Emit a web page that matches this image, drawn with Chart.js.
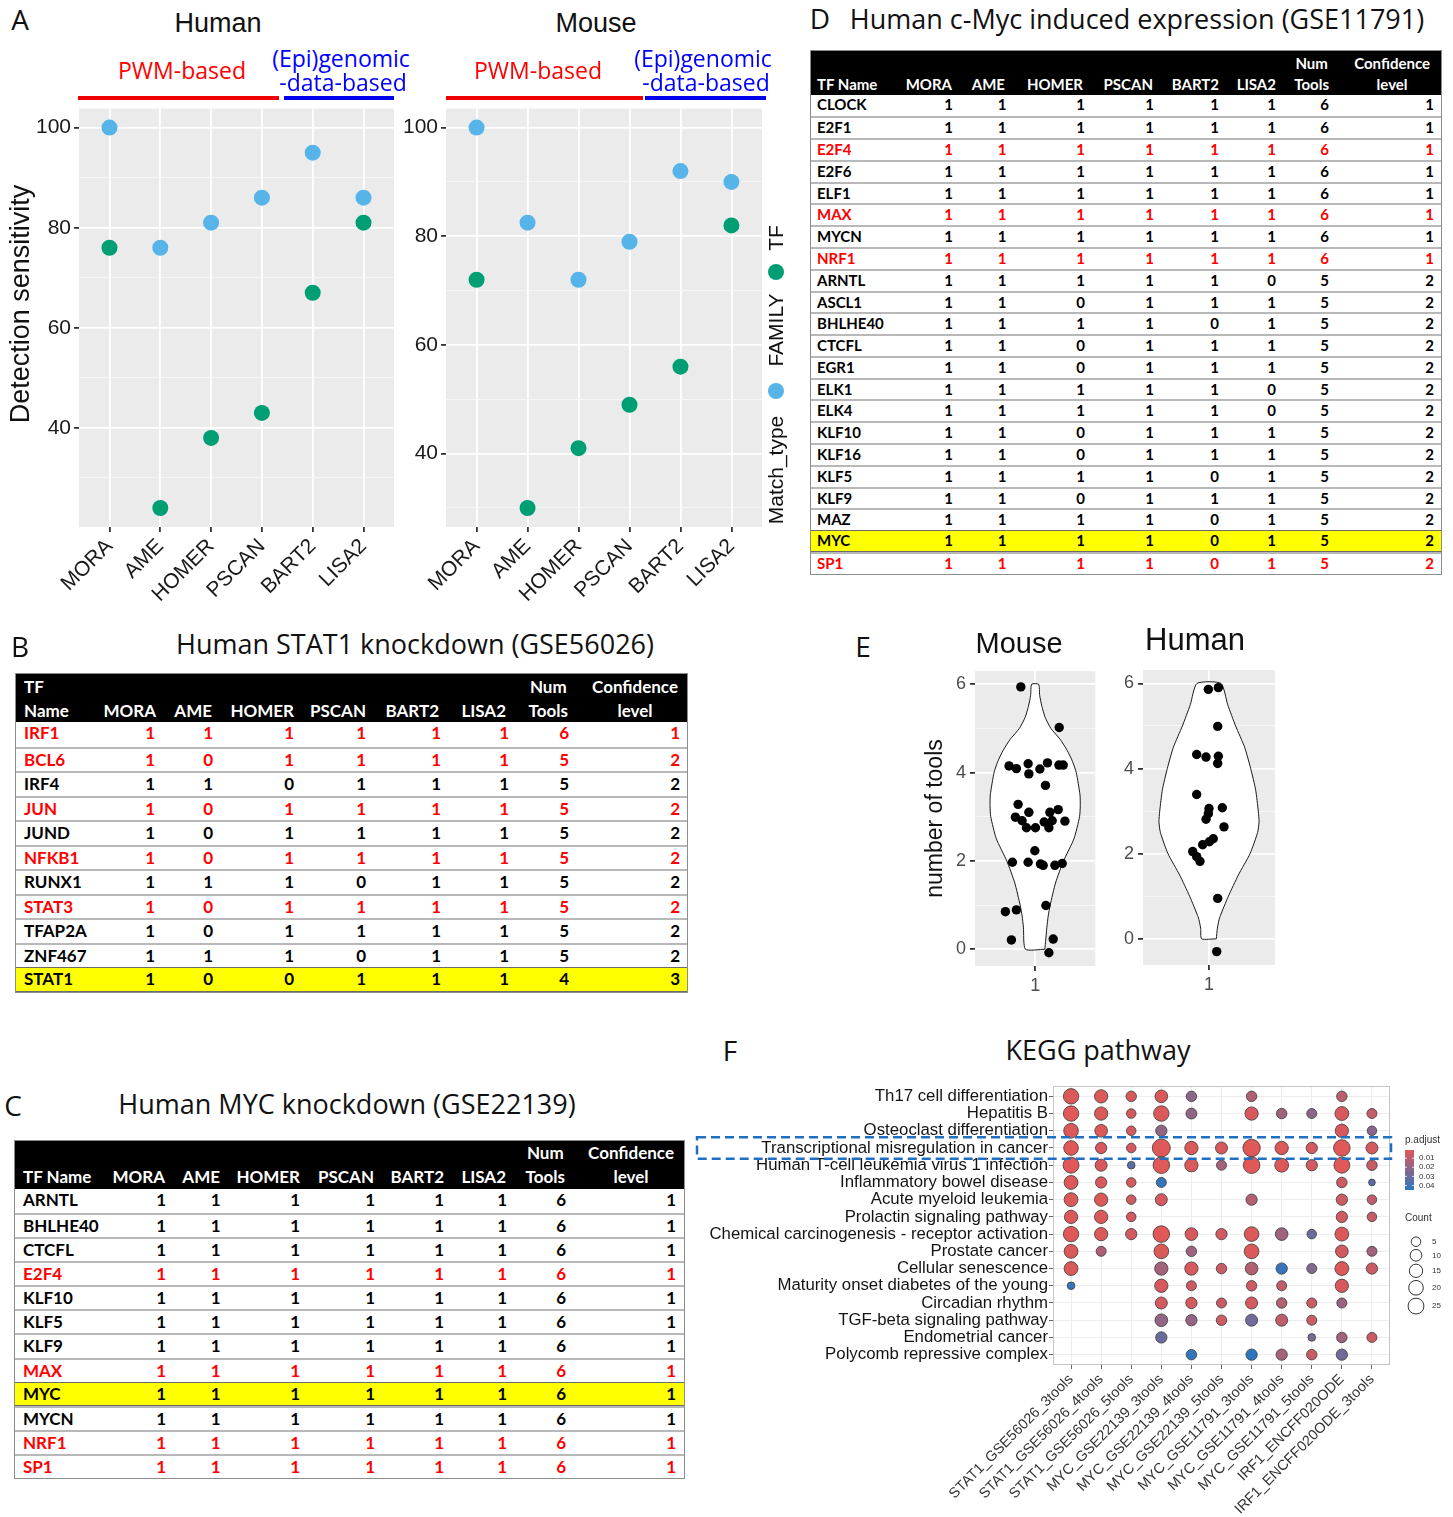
<!DOCTYPE html>
<html lang="en">
<head>
<meta charset="utf-8">
<title>TF enrichment tool comparison</title>
<script src="https://cdn.jsdelivr.net/npm/chart.js@4.4.1/dist/chart.umd.min.js"></script>
<style>
  html, body { margin: 0; padding: 0; background: #fff; }
  body { width: 1453px; height: 1517px; position: relative; overflow: hidden; }
  canvas { position: absolute; }
  .t { position: absolute; white-space: nowrap; line-height: 1; color: #111; }
  .bar { position: absolute; }
  .dot { position: absolute; border-radius: 50%; }
  .tbl { position: absolute; box-sizing: border-box; border: 1px solid #8c8c8c; background: #fff;
         font-family: Lato, 'Open Sans', sans-serif; font-weight: 700; overflow: hidden; }
  .th { position: absolute; left: 0; top: 0; right: 0; background: #000; }
  .hc { position: absolute; color: #fff; text-align: center; white-space: nowrap; }
  .tr { position: absolute; left: 0; right: 0; box-sizing: border-box; }
  .c { position: absolute; top: 0; white-space: nowrap; }
</style>
</head>
<body>
<canvas id="senseHuman" width="405" height="517" style="left:0;top:93px;width:405px;height:517px"></canvas>
<canvas id="senseMouse" width="375" height="517" style="left:395px;top:93px;width:375px;height:517px"></canvas>
<canvas id="toolsMouse" width="185" height="344" style="left:915px;top:656px;width:185px;height:344px"></canvas>
<canvas id="toolsHuman" width="185" height="345" style="left:1100px;top:655px;width:185px;height:345px"></canvas>
<canvas id="kegg" width="763" height="445" style="left:690px;top:1072px;width:763px;height:445px"></canvas>
<script>
// ---------------- fonts ----------------
const SANS = "'Liberation Sans', Arial, Helvetica, sans-serif";
const HUMANIST = "'Open Sans', 'Noto Sans', sans-serif";

// ---------------- Panel A: detection sensitivity ----------------
const detectTools = ['MORA', 'AME', 'HOMER', 'PSCAN', 'BART2', 'LISA2'];
const humanFamily = [100, 76, 81, 86, 95, 86];
const humanTF     = [76, 24, 38, 43, 67, 81];
const mouseFamily = [100, 82.5, 72, 79, 92, 90];
const mouseTF     = [72, 30, 41, 49, 56, 82];
const sensGrid    = [30, 40, 50, 60, 70, 80, 90, 100];
const sensLabels  = [40, 60, 80, 100];
const matchTypes  = ['FAMILY', 'TF'];

// ---------------- Panel E: number of tools per TF ----------------
const mouseJitterX = [0.857, 1.24, 0.74, 0.813, 0.93, 0.937, 1.047, 1.123, 1.237, 1.28, 1.103, 0.83, 0.937,
                      0.803, 0.87, 0.913, 1.003, 1.09, 1.147, 1.23, 1.17, 1.137, 1.297, 0.997, 0.773, 0.93,
                      1.053, 1.08, 1.197, 1.27, 0.703, 0.813, 1.107, 0.763, 1.18, 1.137];
const mouseNumTools = [5.94, 5.02, 4.15, 4.09, 4.2, 3.97, 4.08, 4.22, 4.17, 4.17, 3.71, 3.28, 3.10,
                       2.99, 2.91, 2.75, 2.75, 2.88, 3.10, 3.16, 2.91, 2.75, 2.90, 2.23, 1.97, 1.97,
                       1.93, 1.90, 1.90, 1.94, 0.85, 0.89, 0.99, 0.21, 0.23, -0.08];
const humanJitterX = [0.994, 1.085, 1.079, 0.888, 0.973, 1.085, 1.079, 0.888, 1.0, 1.121, 0.994, 0.973,
                      1.136, 0.942, 1.003, 1.039, 0.852, 0.888, 0.918, 1.079, 1.07];
const humanNumTools = [5.86, 5.90, 4.99, 4.33, 4.27, 4.29, 4.12, 3.39, 3.06, 3.08, 2.94, 2.81,
                       2.63, 2.21, 2.28, 2.35, 2.05, 1.93, 1.82, 0.95, -0.30];
// violin outlines: density half-width at each level of the tool count
const mouseViolinLevels = [0, 0.5, 0.75, 1, 1.5, 2, 2.5, 3, 3.25, 3.5, 4, 4.25, 4.5, 4.75, 5, 5.25, 5.5, 5.75, 6];
const mouseViolinHalf   = [0.097, 0.117, 0.13, 0.15, 0.203, 0.283, 0.387, 0.443, 0.45, 0.447, 0.41, 0.373,
                           0.32, 0.25, 0.157, 0.10, 0.067, 0.045, 0.035];
const humanViolinLevels = [0, 0.25, 0.5, 1, 1.5, 2, 2.5, 2.75, 3, 3.5, 4, 4.5, 5, 5.5, 6];
const humanViolinHalf   = [0.067, 0.076, 0.097, 0.176, 0.267, 0.373, 0.442, 0.455, 0.448, 0.424, 0.379,
                           0.324, 0.242, 0.17, 0.109];
const toolsGrid   = [0, 1, 2, 3, 4, 5, 6];
const toolsLabels = [0, 2, 4, 6];

// ---------------- Panel F: KEGG enrichment ----------------
const keggPathways = [
  'Th17 cell differentiation', 'Hepatitis B', 'Osteoclast differentiation',
  'Transcriptional misregulation in cancer', 'Human T-cell leukemia virus 1 infection',
  'Inflammatory bowel disease', 'Acute myeloid leukemia', 'Prolactin signaling pathway',
  'Chemical carcinogenesis - receptor activation', 'Prostate cancer', 'Cellular senescence',
  'Maturity onset diabetes of the young', 'Circadian rhythm', 'TGF-beta signaling pathway',
  'Endometrial cancer', 'Polycomb repressive complex'];
const keggSamples = [
  'STAT1_GSE56026_3tools', 'STAT1_GSE56026_4tools', 'STAT1_GSE56026_5tools',
  'MYC_GSE22139_3tools', 'MYC_GSE22139_4tools', 'MYC_GSE22139_5tools',
  'MYC_GSE11791_3tools', 'MYC_GSE11791_4tools', 'MYC_GSE11791_5tools',
  'IRF1_ENCFF020ODE', 'IRF1_ENCFF020ODE_3tools'];
const keggFocusPathway = 'Transcriptional misregulation in cancer';
// gene counts (0 = not enriched)
const keggCount = [
  [23, 15, 7, 13, 7, 0, 7, 0, 0, 7, 0],
  [23, 15, 5, 23, 8, 0, 15, 7, 6, 17, 6],
  [20, 13, 5, 9, 0, 0, 0, 0, 0, 15, 5],
  [20, 9, 5, 35, 15, 11, 32, 15, 9, 28, 11],
  [25, 11, 2, 28, 15, 6, 28, 17, 9, 25, 7],
  [17, 9, 5, 6, 0, 0, 0, 0, 0, 7, 1],
  [17, 15, 5, 11, 0, 0, 9, 0, 0, 9, 5],
  [15, 15, 5, 0, 0, 0, 0, 0, 0, 9, 5],
  [23, 15, 9, 28, 13, 9, 20, 13, 5, 17, 0],
  [17, 6, 0, 20, 7, 0, 20, 0, 0, 13, 6],
  [17, 0, 0, 15, 15, 7, 13, 9, 6, 17, 9],
  [2, 0, 0, 15, 6, 0, 7, 6, 0, 15, 0],
  [0, 0, 0, 11, 9, 6, 11, 7, 6, 6, 0],
  [0, 0, 0, 13, 9, 7, 11, 11, 6, 0, 0],
  [0, 0, 0, 9, 0, 0, 0, 0, 2, 7, 6],
  [0, 0, 0, 0, 7, 0, 9, 9, 7, 9, 0]];
// adjusted p-values
const keggPadj = [
  [0.002, 0.002, 0.003, 0.002, 0.022, 0, 0.013, 0, 0, 0.01, 0],
  [0.001, 0.002, 0.004, 0.002, 0.02, 0, 0.003, 0.017, 0.022, 0.003, 0.008],
  [0.002, 0.002, 0.004, 0.02, 0, 0, 0, 0, 0, 0.003, 0.022],
  [0.001, 0.003, 0.004, 0.001, 0.002, 0.003, 0.001, 0.002, 0.004, 0.001, 0.004],
  [0.001, 0.003, 0.034, 0.001, 0.002, 0.016, 0.001, 0.002, 0.005, 0.001, 0.007],
  [0.002, 0.003, 0.004, 0.043, 0, 0, 0, 0, 0, 0.006, 0.034],
  [0.002, 0.002, 0.005, 0.004, 0, 0, 0.012, 0, 0, 0.006, 0.008],
  [0.002, 0.002, 0.004, 0, 0, 0, 0, 0, 0, 0.005, 0.007],
  [0.001, 0.002, 0.004, 0.001, 0.003, 0.005, 0.002, 0.017, 0.03, 0.002, 0],
  [0.002, 0.013, 0, 0.002, 0.017, 0, 0.002, 0, 0, 0.005, 0.016],
  [0.002, 0, 0, 0.016, 0.003, 0.007, 0.012, 0.042, 0.024, 0.002, 0.007],
  [0.043, 0, 0, 0.003, 0.006, 0, 0.006, 0.009, 0, 0.003, 0],
  [0, 0, 0, 0.004, 0.004, 0.007, 0.004, 0.012, 0.006, 0.018, 0],
  [0, 0, 0, 0.02, 0.019, 0.006, 0.028, 0.009, 0.006, 0, 0],
  [0, 0, 0, 0.03, 0, 0, 0, 0, 0.026, 0.016, 0.006],
  [0, 0, 0, 0, 0.044, 0, 0.045, 0.015, 0.007, 0.028, 0]];
const padjDomain = [0.001, 0.045];
const padjBreaks = [0.01, 0.02, 0.03, 0.04];
const countBreaks = [5, 10, 15, 20, 25];

// ---------------- Tables B, C, D ----------------
const stat1Names = ['IRF1', 'BCL6', 'IRF4', 'JUN', 'JUND', 'NFKB1', 'RUNX1', 'STAT3', 'TFAP2A', 'ZNF467', 'STAT1'];
const stat1Hits = [[1,1,1,1,1,1],[1,0,1,1,1,1],[1,1,0,1,1,1],[1,0,1,1,1,1],[1,0,1,1,1,1],[1,0,1,1,1,1],
                   [1,1,1,0,1,1],[1,0,1,1,1,1],[1,0,1,1,1,1],[1,1,1,0,1,1],[1,0,0,1,1,1]];
const stat1NumTools = [6, 5, 5, 5, 5, 5, 5, 5, 5, 5, 4];
const stat1Conf     = [1, 2, 2, 2, 2, 2, 2, 2, 2, 2, 3];
const stat1Red      = ['IRF1', 'BCL6', 'JUN', 'NFKB1', 'STAT3'];
const stat1Target   = 'STAT1';

const mycKdNames = ['ARNTL', 'BHLHE40', 'CTCFL', 'E2F4', 'KLF10', 'KLF5', 'KLF9', 'MAX', 'MYC', 'MYCN', 'NRF1', 'SP1'];
const mycKdHits = [[1,1,1,1,1,1],[1,1,1,1,1,1],[1,1,1,1,1,1],[1,1,1,1,1,1],[1,1,1,1,1,1],[1,1,1,1,1,1],
                   [1,1,1,1,1,1],[1,1,1,1,1,1],[1,1,1,1,1,1],[1,1,1,1,1,1],[1,1,1,1,1,1],[1,1,1,1,1,1]];
const mycKdNumTools = [6, 6, 6, 6, 6, 6, 6, 6, 6, 6, 6, 6];
const mycKdConf     = [1, 1, 1, 1, 1, 1, 1, 1, 1, 1, 1, 1];
const mycKdRed      = ['E2F4', 'MAX', 'NRF1', 'SP1'];
const mycKdTarget   = 'MYC';

const mycIndNames = ['CLOCK', 'E2F1', 'E2F4', 'E2F6', 'ELF1', 'MAX', 'MYCN', 'NRF1', 'ARNTL', 'ASCL1', 'BHLHE40',
                     'CTCFL', 'EGR1', 'ELK1', 'ELK4', 'KLF10', 'KLF16', 'KLF5', 'KLF9', 'MAZ', 'MYC', 'SP1'];
const mycIndHits = [[1,1,1,1,1,1],[1,1,1,1,1,1],[1,1,1,1,1,1],[1,1,1,1,1,1],[1,1,1,1,1,1],[1,1,1,1,1,1],
                    [1,1,1,1,1,1],[1,1,1,1,1,1],[1,1,1,1,1,0],[1,1,0,1,1,1],[1,1,1,1,0,1],[1,1,0,1,1,1],
                    [1,1,0,1,1,1],[1,1,1,1,1,0],[1,1,1,1,1,0],[1,1,0,1,1,1],[1,1,0,1,1,1],[1,1,1,1,0,1],
                    [1,1,0,1,1,1],[1,1,1,1,0,1],[1,1,1,1,0,1],[1,1,1,1,0,1]];
const mycIndNumTools = [6, 6, 6, 6, 6, 6, 6, 6, 5, 5, 5, 5, 5, 5, 5, 5, 5, 5, 5, 5, 5, 5];
const mycIndConf     = [1, 1, 1, 1, 1, 1, 1, 1, 2, 2, 2, 2, 2, 2, 2, 2, 2, 2, 2, 2, 2, 2];
const mycIndRed      = ['E2F4', 'MAX', 'NRF1', 'SP1'];
const mycIndTarget   = 'MYC';

// ================= helpers =================
function addText(txt, cx, cy, css, rotate) {
  const d = document.createElement('div');
  d.className = 't';
  d.textContent = txt;
  d.style.left = cx + 'px';
  d.style.top = cy + 'px';
  d.style.transform = 'translate(-50%,-50%)' + (rotate ? ' rotate(' + rotate + 'deg)' : '');
  Object.assign(d.style, css || {});
  document.body.appendChild(d);
  return d;
}
function addBar(left, top, w, h, color) {
  const d = document.createElement('div');
  d.className = 'bar';
  Object.assign(d.style, {left: left + 'px', top: top + 'px', width: w + 'px', height: h + 'px', background: color});
  document.body.appendChild(d);
}
function addDot(cx, cy, r, color) {
  const d = document.createElement('div');
  d.className = 'dot';
  Object.assign(d.style, {left: (cx - r) + 'px', top: (cy - r) + 'px', width: 2 * r + 'px', height: 2 * r + 'px', background: color});
  document.body.appendChild(d);
}

const FAMILY_COLOR = '#56B4E9';
const TF_COLOR = '#009E73';

// panel background / border drawn under the grid
const panelPlugin = {
  id: 'panel',
  beforeDraw(chart, args, opts) {
    if (!opts.fill) return;
    const {ctx, chartArea: a} = chart;
    ctx.save();
    ctx.fillStyle = opts.fill;
    ctx.fillRect(a.left, a.top, a.right - a.left, a.bottom - a.top);
    ctx.restore();
  },
  beforeDatasetsDraw(chart, args, opts) {
    if (!opts.border) return;
    const {ctx, chartArea: a} = chart;
    ctx.save();
    ctx.strokeStyle = opts.border;
    ctx.lineWidth = 1;
    ctx.strokeRect(a.left + 0.5, a.top + 0.5, a.right - a.left - 1, a.bottom - a.top - 1);
    ctx.restore();
  }
};

// white interior of the violin outlines
const violinPlugin = {
  id: 'violinFill',
  beforeDatasetsDraw(chart) {
    const ctx = chart.ctx;
    chart.data.datasets.forEach((ds, i) => {
      if (!ds.violin) return;
      const meta = chart.getDatasetMeta(i);
      const line = meta.dataset;
      ctx.save();
      ctx.beginPath();
      let done = false;
      if (line && typeof line.path === 'function') {
        try {
          if (line.updateControlPoints) line.updateControlPoints(chart.chartArea, 'x');
          line.path(ctx);
          done = true;
        } catch (e) { done = false; }
      }
      if (!done) {
        ctx.beginPath();
        meta.data.forEach((p, k) => k ? ctx.lineTo(p.x, p.y) : ctx.moveTo(p.x, p.y));
      }
      ctx.closePath();
      ctx.fillStyle = '#ffffff';
      ctx.fill();
      ctx.restore();
    });
  }
};

Chart.defaults.font.family = SANS;
Chart.defaults.animation = false;

// ================= Panel A charts =================
function sensitivityChart(id, fam, tf, yMin, yMax, yWidth, padRight) {
  const major = v => sensLabels.includes(v);
  return new Chart(document.getElementById(id), {
    type: 'scatter',
    data: {
      datasets: [
        {label: matchTypes[0], data: fam.map((v, i) => ({x: i + 1, y: v})), backgroundColor: FAMILY_COLOR,
         pointRadius: 8, pointBorderWidth: 0},
        {label: matchTypes[1], data: tf.map((v, i) => ({x: i + 1, y: v})), backgroundColor: TF_COLOR,
         pointRadius: 8, pointBorderWidth: 0}
      ]
    },
    options: {
      responsive: false, animation: false, events: [],
      layout: {padding: {top: 15, right: padRight, left: 0, bottom: 0}},
      plugins: {legend: {display: false}, tooltip: {enabled: false}, panel: {fill: '#EBEBEB'}},
      scales: {
        x: {
          type: 'linear', min: 0.4, max: detectTools.length + 0.6,
          afterBuildTicks: s => { s.ticks = detectTools.map((_, i) => ({value: i + 1})); },
          afterFit: s => { s.height = 83; },
          ticks: {callback: v => detectTools[v - 1], autoSkip: false, minRotation: 45, maxRotation: 45,
                  color: '#1a1a1a', font: {size: 21}, padding: 2},
          grid: {color: '#ffffff', lineWidth: 1.8, tickColor: '#333333', tickLength: 5},
          border: {display: false}
        },
        y: {
          type: 'linear', min: yMin, max: yMax,
          afterBuildTicks: s => { s.ticks = sensGrid.map(v => ({value: v})); },
          afterFit: s => { s.width = yWidth; },
          ticks: {callback: v => major(v) ? String(v) : '', autoSkip: false, color: '#1a1a1a', font: {size: 21}, padding: 3},
          grid: {
            color: c => major(c.tick.value) ? '#ffffff' : '#f7f7f7',
            lineWidth: c => major(c.tick.value) ? 1.8 : 0.9,
            tickColor: c => major(c.tick.value) ? '#333333' : 'rgba(0,0,0,0)',
            tickLength: 5
          },
          border: {display: false}
        }
      }
    },
    plugins: [panelPlugin]
  });
}
sensitivityChart('senseHuman', humanFamily, humanTF, 20.2, 103.8, 79, 11);
sensitivityChart('senseMouse', mouseFamily, mouseTF, 26.5, 103.5, 51, 8);

// ================= Panel E charts =================
function violinOutline(levels, half) {
  const right = levels.map((y, i) => ({x: 1 + half[i], y}));
  const left = levels.map((y, i) => ({x: 1 - half[i], y})).reverse();
  return right.concat(left, [right[0]]);
}
function toolsChart(id, xs, ys, levels, half, yMin, yMax, yWidth, padRight, xHeight, withTitle) {
  const major = v => toolsLabels.includes(v);
  return new Chart(document.getElementById(id), {
    type: 'scatter',
    data: {
      datasets: [
        {data: xs.map((x, i) => ({x, y: ys[i]})), backgroundColor: '#000000', pointRadius: 4.7, pointBorderWidth: 0},
        {violin: true, data: violinOutline(levels, half), showLine: true, pointRadius: 0, borderColor: '#1a1a1a',
         borderWidth: 1, tension: 0.2, fill: false}
      ]
    },
    options: {
      responsive: false, animation: false, events: [],
      layout: {padding: {top: 15, right: padRight, left: 0, bottom: 0}},
      plugins: {legend: {display: false}, tooltip: {enabled: false}, panel: {fill: '#EBEBEB'}},
      scales: {
        x: {
          type: 'linear', min: 0.4, max: 1.6,
          afterBuildTicks: s => { s.ticks = [{value: 1}]; },
          afterFit: s => { s.height = xHeight; },
          ticks: {callback: v => String(v), color: '#4d4d4d', font: {size: 18}, padding: 4},
          grid: {color: '#ffffff', lineWidth: 1.8, tickColor: '#333333', tickLength: 5},
          border: {display: false}
        },
        y: {
          type: 'linear', min: yMin, max: yMax,
          afterBuildTicks: s => { s.ticks = toolsGrid.map(v => ({value: v})); },
          afterFit: s => { s.width = yWidth; },
          ticks: {callback: v => major(v) ? String(v) : '', autoSkip: false, color: '#4d4d4d', font: {size: 18}, padding: 4},
          grid: {
            color: c => major(c.tick.value) ? '#ffffff' : '#f7f7f7',
            lineWidth: c => major(c.tick.value) ? 1.8 : 0.9,
            tickColor: c => major(c.tick.value) ? '#333333' : 'rgba(0,0,0,0)',
            tickLength: 5
          },
          border: {display: false},
          title: {display: withTitle, text: 'number of tools', color: '#111111', font: {size: 23}, padding: {top: 7, bottom: 0}}
        }
      }
    },
    plugins: [panelPlugin, violinPlugin]
  });
}
toolsChart('toolsMouse', mouseJitterX, mouseNumTools, mouseViolinLevels, mouseViolinHalf, -0.38, 6.30, 60, 4, 34, true);
toolsChart('toolsHuman', humanJitterX, humanNumTools, humanViolinLevels, humanViolinHalf, -0.615, 6.315, 43, 10, 35, false);

// ================= Panel F chart =================
const RED = [224, 88, 88], BLUE = [44, 118, 192];
function padjColor(p) {
  const t = Math.max(0, Math.min(1, (p - padjDomain[0]) / (padjDomain[1] - padjDomain[0])));
  const c = RED.map((v, k) => Math.round(v + (BLUE[k] - v) * t));
  return 'rgb(' + c.join(',') + ')';
}
function bubbleRadius(count) { return 2.2 + 1.15 * Math.sqrt(count); }

const keggPoints = [];
keggCount.forEach((row, i) => row.forEach((n, j) => {
  if (n > 0) keggPoints.push({x: j + 1, y: i + 1, r: bubbleRadius(n), p: keggPadj[i][j]});
}));

const keggExtras = {
  id: 'keggExtras',
  afterDraw(chart) {
    const {ctx, chartArea: a, scales} = chart;
    // highlighted pathway frame
    const row = keggPathways.indexOf(keggFocusPathway) + 1;
    const y1 = scales.y.getPixelForValue(row - 0.63), y2 = scales.y.getPixelForValue(row + 0.63);
    ctx.save();
    ctx.strokeStyle = '#1f6fc2';
    ctx.lineWidth = 2.5;
    ctx.setLineDash([9, 5]);
    ctx.strokeRect(scales.y.left + 7, Math.min(y1, y2), a.right + 1 - (scales.y.left + 7), Math.abs(y2 - y1));
    ctx.restore();

    // legends
    const x0 = a.right + 15;
    ctx.save();
    ctx.fillStyle = '#333333';
    ctx.textBaseline = 'middle';
    ctx.textAlign = 'left';
    ctx.font = '10px ' + SANS;
    ctx.fillText('p.adjust', x0, a.top + 54);
    const barTop = a.top + 64, barH = 40, barW = 9;
    const g = ctx.createLinearGradient(0, barTop, 0, barTop + barH);
    for (let k = 0; k <= 10; k++) g.addColorStop(k / 10, padjColor(padjDomain[0] + (padjDomain[1] - padjDomain[0]) * k / 10));
    ctx.fillStyle = g;
    ctx.fillRect(x0, barTop, barW, barH);
    ctx.font = '8px ' + SANS;
    padjBreaks.forEach(p => {
      const y = barTop + barH * (p - padjDomain[0]) / (padjDomain[1] - padjDomain[0]);
      ctx.strokeStyle = '#ffffff'; ctx.lineWidth = 0.8;
      ctx.beginPath(); ctx.moveTo(x0, y); ctx.lineTo(x0 + 2, y); ctx.moveTo(x0 + barW - 2, y); ctx.lineTo(x0 + barW, y); ctx.stroke();
      ctx.fillStyle = '#333333';
      ctx.fillText(p.toFixed(2), x0 + 14, y);
    });
    ctx.font = '10px ' + SANS;
    ctx.fillText('Count', x0, a.top + 132);
    ctx.font = '8px ' + SANS;
    let cy = a.top + 155.7;
    countBreaks.forEach((n, k) => {
      const r = bubbleRadius(n);
      if (k > 0) cy += bubbleRadius(countBreaks[k - 1]) + r + 3;
      ctx.beginPath(); ctx.arc(x0 + 11, cy, r, 0, Math.PI * 2);
      ctx.strokeStyle = '#333333'; ctx.lineWidth = 1; ctx.stroke();
      ctx.fillStyle = '#333333';
      ctx.fillText(String(n), x0 + 27, cy);
    });
    ctx.restore();
  }
};

new Chart(document.getElementById('kegg'), {
  type: 'bubble',
  data: {
    datasets: [{
      data: keggPoints,
      backgroundColor: c => padjColor(c.raw ? c.raw.p : padjDomain[0]),
      borderColor: '#3b3b3b', borderWidth: 0.8
    }]
  },
  options: {
    responsive: false, animation: false, events: [],
    layout: {padding: {top: 14, right: 63, left: 0, bottom: 0}},
    plugins: {legend: {display: false}, tooltip: {enabled: false}, panel: {fill: '#ffffff', border: '#c4c4c4'}},
    scales: {
      x: {
        type: 'linear', min: 0.4, max: keggSamples.length + 0.6,
        afterBuildTicks: s => { s.ticks = keggSamples.map((_, i) => ({value: i + 1})); },
        afterFit: s => { s.height = 152; },
        ticks: {callback: v => keggSamples[v - 1], autoSkip: false, minRotation: 45, maxRotation: 45,
                color: '#333333', font: {size: 14.5}, padding: 2},
        grid: {color: '#ebebeb', lineWidth: 0.9, tickColor: '#555555', tickLength: 4},
        border: {display: false}
      },
      y: {
        type: 'linear', min: 0.4, max: keggPathways.length + 0.6, reverse: true,
        afterBuildTicks: s => { s.ticks = keggPathways.map((_, i) => ({value: i + 1})); },
        afterFit: s => { s.width = 363; },
        ticks: {callback: v => keggPathways[v - 1], autoSkip: false, color: '#141414', font: {size: 16.8}, padding: 1},
        grid: {color: '#ebebeb', lineWidth: 0.9, tickColor: '#555555', tickLength: 4},
        border: {display: false}
      }
    }
  },
  plugins: [panelPlugin, keggExtras]
});

// ================= Tables =================
function buildTable(t) {
  const n = t.names.length;
  const innerW = t.width - 2;
  const box = document.createElement('div');
  box.className = 'tbl';
  Object.assign(box.style, {left: t.left + 'px', top: t.top + 'px', width: t.width + 'px',
    height: (t.headH + n * t.rowH + 2) + 'px', fontSize: t.font + 'px'});
  const head = document.createElement('div');
  head.className = 'th';
  head.style.height = t.headH + 'px';
  box.appendChild(head);
  const gap = t.line2 - t.line1;
  const headers = [t.nameHeader].concat(detectTools.map(s => ['', s]), [['Num', 'Tools'], ['Confidence', 'level']]);
  headers.forEach((lines, j) => {
    const hc = document.createElement('div');
    hc.className = 'hc';
    hc.style.top = (t.line1 - gap / 2) + 'px';
    hc.style.lineHeight = gap + 'px';
    lines.forEach(s => {
      const ln = document.createElement('div');
      ln.textContent = s || '\u00a0';
      hc.appendChild(ln);
    });
    if (j === 0) { hc.style.left = t.nameLeft + 'px'; hc.style.textAlign = 'left'; }
    else hc.style.right = (innerW - t.headRight[j - 1]) + 'px';
    head.appendChild(hc);
  });
  t.names.forEach((name, i) => {
    const row = document.createElement('div');
    row.className = 'tr';
    row.style.top = (t.headH + i * t.rowH) + 'px';
    row.style.height = t.rowH + 'px';
    if (name === t.focus) {
      row.style.background = '#ffff00';
      row.style.borderTop = '1px solid #6b6b6b';
      row.style.borderBottom = '1px solid #6b6b6b';
    } else if (i > 0) {
      row.style.borderTop = '2px solid #b8b8b8';
    }
    row.style.color = t.red.includes(name) ? '#ff0000' : '#000000';
    const cells = [name].concat(t.hits[i], [t.numTools[i], t.conf[i]]);
    cells.forEach((v, j) => {
      const c = document.createElement('div');
      c.className = 'c';
      c.textContent = String(v);
      c.style.lineHeight = (t.rowH - 2) + 'px';
      if (j === 0) c.style.left = t.nameLeft + 'px';
      else c.style.right = (innerW - t.cellRight[j - 1]) + 'px';
      row.appendChild(c);
    });
    box.appendChild(row);
  });
  document.body.appendChild(box);
}

buildTable({
  names: stat1Names, hits: stat1Hits, numTools: stat1NumTools, conf: stat1Conf, red: stat1Red, focus: stat1Target,
  nameHeader: ['TF', 'Name'],
  left: 15, top: 673, width: 673, headH: 48, rowH: 24.5, font: 17, line1: 13, line2: 37, nameLeft: 8,
  headRight: [140, 196, 278, 350, 423, 490, 552, 662],
  cellRight: [139, 197, 278, 350, 425, 493, 553, 664]
});
buildTable({
  names: mycKdNames, hits: mycKdHits, numTools: mycKdNumTools, conf: mycKdConf, red: mycKdRed, focus: mycKdTarget,
  nameHeader: ['', 'TF Name'],
  left: 14, top: 1140, width: 671, headH: 47.5, rowH: 24.15, font: 17, line1: 12, line2: 36.5, nameLeft: 8,
  headRight: [150, 205, 285, 359, 429, 491, 550, 659],
  cellRight: [151, 205.5, 285, 360, 429, 492, 551, 661]
});
buildTable({
  names: mycIndNames, hits: mycIndHits, numTools: mycIndNumTools, conf: mycIndConf, red: mycIndRed, focus: mycIndTarget,
  nameHeader: ['', 'TF Name'],
  left: 810, top: 50, width: 632, headH: 43.5, rowH: 21.78, font: 15, line1: 12.7, line2: 33.3, nameLeft: 6,
  headRight: [141, 194, 272, 342, 408, 465, 518, 619],
  cellRight: [142, 195.5, 274, 343, 408, 465, 518, 623]
});

// ================= Titles, labels and legends =================
const letterCss = {font: '28px ' + HUMANIST, color: '#111'};
const titleCss = {font: '27px ' + HUMANIST, color: '#111'};
const redCss = {font: '23px ' + HUMANIST, color: '#ff0000'};
const blueCss = {font: '23px ' + HUMANIST, color: '#0000ff'};

addText('A', 20, 19, letterCss);
addText('Human', 218, 23, {font: '27px ' + SANS, color: '#111'});
addText('Mouse', 596, 23, {font: '27px ' + SANS, color: '#111'});
addText('PWM-based', 182, 70, redCss);
addText('(Epi)genomic', 341, 58, blueCss);
addText('-data-based', 343, 82, blueCss);
addText('PWM-based', 538, 70, redCss);
addText('(Epi)genomic', 703, 58, blueCss);
addText('-data-based', 706, 82, blueCss);
addBar(78, 96, 201, 4, '#ee0000');
addBar(284, 96, 110, 4, '#0000ee');
addBar(446, 96, 197, 4, '#ee0000');
addBar(645, 96, 121, 4, '#0000ee');
addText('Detection sensitivity', 20, 304, {font: '27px ' + SANS, color: '#111'}, -90);
addText('TF', 776, 238, {font: '21px ' + SANS, color: '#111'}, -90);
addDot(776, 272, 8, TF_COLOR);
addText('FAMILY', 776, 330, {font: '21px ' + SANS, color: '#111'}, -90);
addDot(776, 391, 8, FAMILY_COLOR);
addText('Match_type', 776, 470, {font: '21px ' + SANS, color: '#111'}, -90);

addText('D', 820, 18, letterCss);
addText('Human c-Myc induced expression (GSE11791)', 1137, 18, titleCss);
addText('B', 20, 646, letterCss);
addText('Human STAT1 knockdown (GSE56026)', 415, 643, titleCss);
addText('C', 13, 1105, letterCss);
addText('Human MYC knockdown (GSE22139)', 347, 1103, titleCss);
addText('E', 863, 646, letterCss);
addText('Mouse', 1019, 643, {font: '29px ' + SANS, color: '#111'});
addText('Human', 1195, 640, {font: '31px ' + SANS, color: '#111'});
addText('F', 730, 1050, letterCss);
addText('KEGG pathway', 1098, 1049, titleCss);
</script>
</body>
</html>
